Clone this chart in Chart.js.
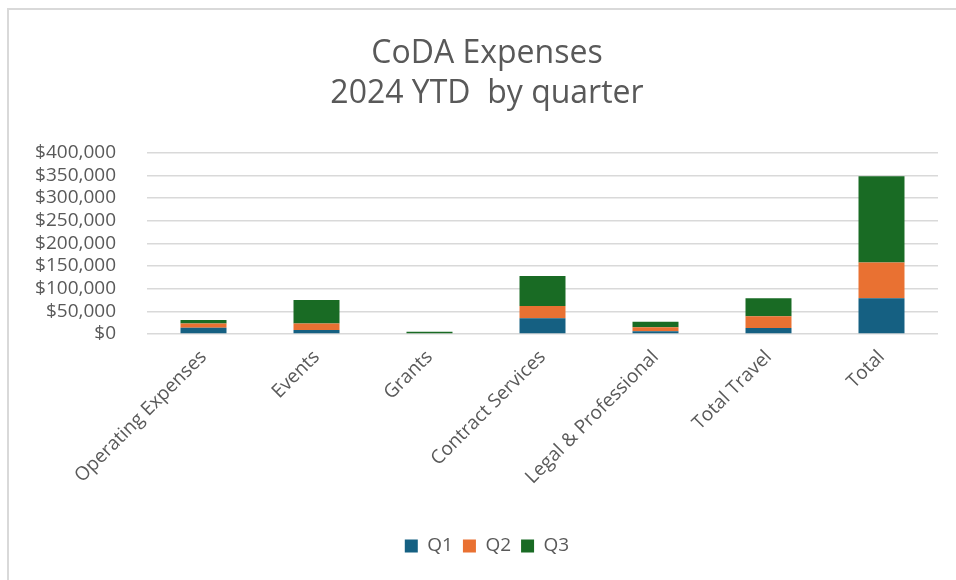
<!DOCTYPE html>
<html>
<head>
<meta charset="utf-8">
<script src="https://cdn.jsdelivr.net/npm/chart.js@4/dist/chart.umd.min.js"></script>
<style>
  html, body { margin: 0; padding: 0; background: #ffffff; }
  #wrap { position: relative; width: 956px; height: 580px; overflow: hidden; }
  #frame { position: absolute; left: 7px; top: 8px; width: 1000px; height: 700px; border: 2px solid #d9d9d9; box-sizing: border-box; }
  #c { position: absolute; left: 0; top: 0; }
</style>
</head>
<body>
<div id="wrap">
  <div id="frame"></div>
  <canvas id="c" width="956" height="580"></canvas>
</div>
<script>
const categories = ['Operating Expenses', 'Events', 'Grants', 'Contract Services', 'Legal & Professional', 'Total Travel', 'Total'];
const seriesNames = ['Q1', 'Q2', 'Q3'];
const q1Values = [14000, 9000, 0, 35000, 6000, 13000, 79000];
const q2Values = [9000, 14000, 0, 27000, 9000, 26000, 79000];
const q3Values = [8000, 52000, 5000, 66000, 12000, 40000, 190000];
const yTickValues = [0, 50000, 100000, 150000, 200000, 250000, 300000, 350000, 400000];
const titleLines = ['CoDA Expenses', '2024 YTD  by quarter'];

const colors = ['#156082', '#E97132', '#196B24'];
const textColor = '#595959';
const fontFamily = '"Open Sans", sans-serif';

const ds = [q1Values, q2Values, q3Values].map((vals, i) => ({
  label: seriesNames[i],
  data: vals,
  backgroundColor: colors[i],
  borderWidth: 0,
  categoryPercentage: 1.0,
  barPercentage: 0.407
}));

new Chart(document.getElementById('c'), {
  type: 'bar',
  data: { labels: categories, datasets: ds },
  options: {
    responsive: false,
    animation: false,
    layout: { padding: { left: 36, right: 18, top: 34, bottom: 14.5 } },
    plugins: {
      title: {
        display: true,
        text: titleLines,
        color: textColor,
        font: { family: fontFamily, size: 32, weight: 'normal', lineHeight: 1.25 },
        padding: { top: 0, bottom: 38.7 }
      },
      legend: {
        display: true,
        position: 'bottom',
        labels: {
          color: textColor,
          font: { family: fontFamily, size: 19 },
          boxWidth: 13,
          boxHeight: 13,
          padding: 10
        }
      },
      tooltip: { enabled: false }
    },
    scales: {
      x: {
        stacked: true,
        grid: { display: false },
        border: { display: false },
        ticks: {
          color: textColor,
          font: { family: fontFamily, size: 19 },
          minRotation: 45,
          maxRotation: 45,
          padding: 4,
          autoSkip: false
        },
        afterFit: (s) => { s.height = 192.5; }
      },
      y: {
        stacked: true,
        min: 0,
        max: 400000,
        grid: { color: '#d9d9d9', lineWidth: 1.5, drawTicks: false },
        border: { display: false },
        afterBuildTicks: (s) => { s.ticks = yTickValues.map(v => ({ value: v })); },
        ticks: {
          color: textColor,
          font: { family: fontFamily, size: 19 },
          padding: 31,
          autoSkip: false,
          callback: (v) => '$' + Number(v).toLocaleString('en-US')
        },
        afterFit: (s) => { s.width = 111; }
      }
    }
  }
});
</script>
</body>
</html>
